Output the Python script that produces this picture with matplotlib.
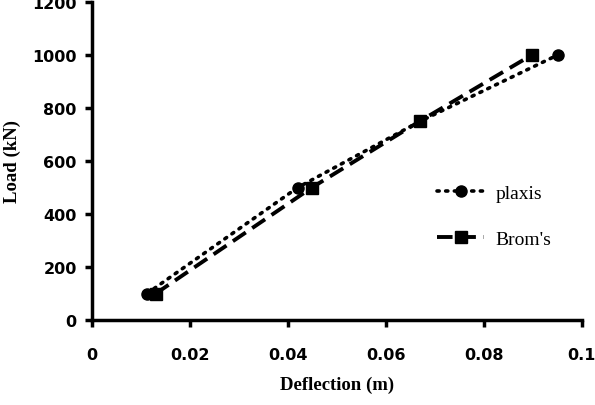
import matplotlib.pyplot as plt

# data
plaxis_x = [0.0112, 0.042, 0.067, 0.0951]
plaxis_y = [100, 500, 750, 1000]
broms_x = [0.013, 0.0449, 0.0669, 0.0898]
broms_y = [100, 500, 750, 1000]

xticks = [0, 0.02, 0.04, 0.06, 0.08, 0.1]
xticklabels = ['0', '0.02', '0.04', '0.06', '0.08', '0.1']
yticks = [0, 200, 400, 600, 800, 1000, 1200]

fig = plt.figure(figsize=(5.95, 4.06), dpi=100)
ax = fig.add_axes((0.1546, 0.209, 0.8234, 0.784))

ax.plot(plaxis_x, plaxis_y, color='k', linestyle=(0, (0.6, 1.8)), linewidth=2.6,
        marker='o', markersize=8, dash_capstyle='round', label='plaxis')
ax.plot(broms_x, broms_y, color='k', linestyle=(0, (4, 2)), linewidth=2.8,
        marker='s', markersize=8, label="Brom's")

ax.set_xlim(0, 0.1)
ax.set_ylim(0, 1200)
ax.set_xticks(xticks)
ax.set_xticklabels(xticklabels)
ax.set_yticks(yticks)

for s in ['top', 'right']:
    ax.spines[s].set_visible(False)
for s in ['left', 'bottom']:
    ax.spines[s].set_linewidth(2.5)

ax.tick_params(direction='out', length=5, width=2.5, labelsize=11.5, pad=6)
ax.tick_params(axis='x', pad=14)
for lab in ax.get_xticklabels() + ax.get_yticklabels():
    lab.set_fontweight('bold')
    lab.set_fontfamily('DejaVu Sans')

ax.set_xlabel('Deflection (m)', fontfamily='Liberation Serif', fontweight='bold',
              fontsize=13.5, labelpad=10)
ax.set_ylabel('Load (kN)', fontfamily='Liberation Serif', fontweight='bold',
              fontsize=13.5, labelpad=8)

leg = ax.legend(loc='center left', bbox_to_anchor=(0.705, 0.327), frameon=False,
                prop={'family': 'Liberation Serif', 'size': 14},
                handlelength=2.4, handletextpad=0.6, labelspacing=1.45,
                borderpad=0, borderaxespad=0)

fig.savefig('out.png', dpi=100)
